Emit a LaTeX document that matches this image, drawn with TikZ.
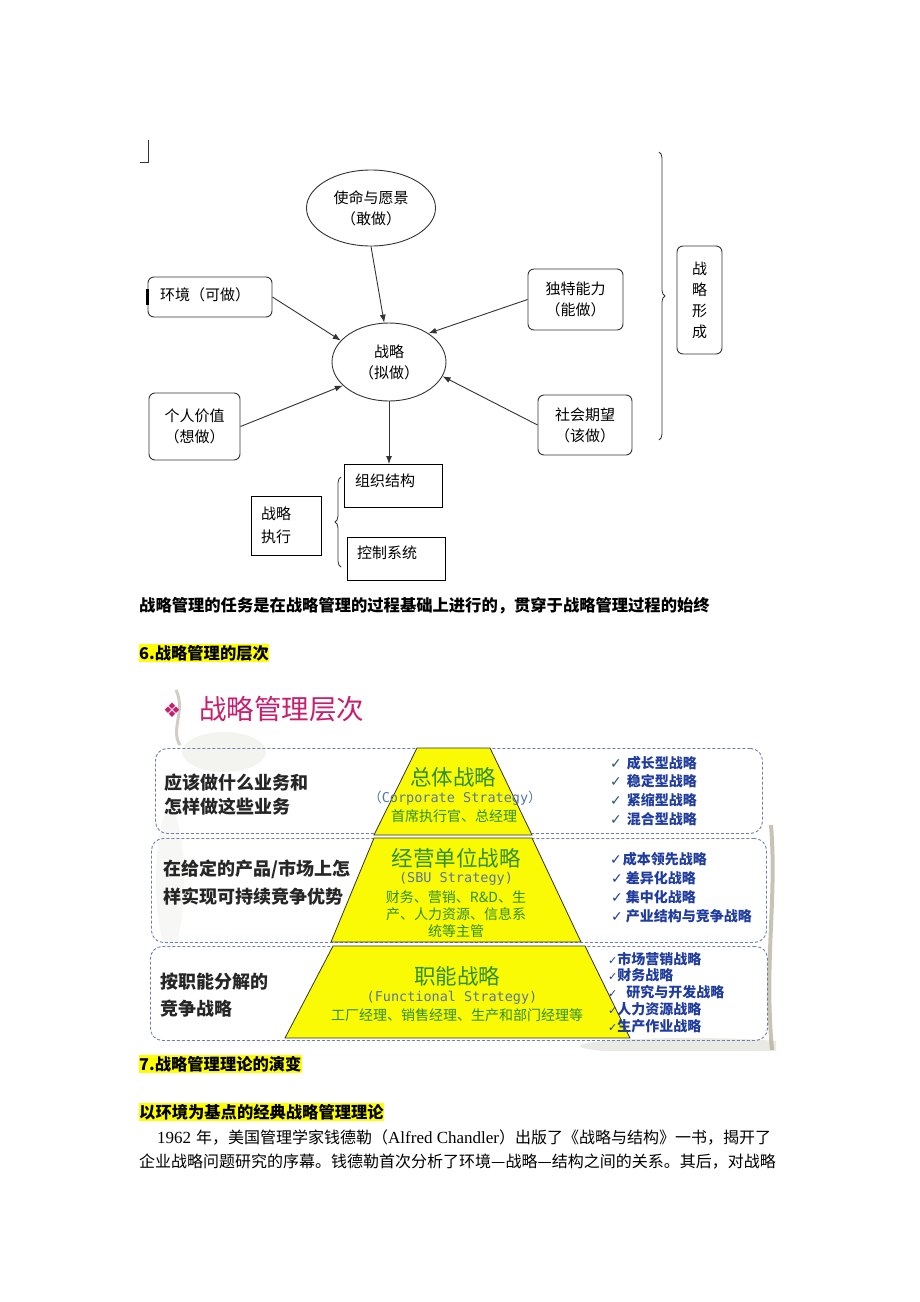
\documentclass[tikz,border=0pt]{standalone}
\usepackage{fontspec}
\setmainfont{Liberation Serif}
\newfontfamily\cjk{Noto Sans CJK SC}
\newfontfamily\symb{DejaVu Sans}
\newfontfamily\enmono{DejaVu Sans Mono}
\usetikzlibrary{shapes.geometric,arrows.meta,decorations.pathreplacing}
\definecolor{linegray}{HTML}{333333}
\definecolor{hlyellow}{HTML}{FFFF00}
\definecolor{trapyellow}{HTML}{FAFA05}
\definecolor{tiergreen}{HTML}{2E8F2E}
\definecolor{engblue}{HTML}{56789E}
\definecolor{listblue}{HTML}{1F3C9E}
\definecolor{checkteal}{HTML}{2A5866}
\definecolor{dashblue}{HTML}{6D7FB0}
\definecolor{pinkred}{HTML}{C71F6E}
\definecolor{leafgray}{HTML}{C9CCBA}
\definecolor{stemcol}{HTML}{A39E86}
\newcommand\setsz[2]{\fontsize{#1}{#2}\selectfont}
\newcommand\chk{{\symb ✓}}
\begin{document}
\begin{tikzpicture}[x=1pt, y=-1pt,
		every node/.style={inner sep=0pt, font=\cjk\setsz{15}{21}, text=black},
		frame/.style={draw=linegray, line width=0.9pt, rounded corners=6pt, align=center},
		plainframe/.style={draw=black, line width=0.9pt},
		oval/.style={ellipse, draw=linegray, line width=0.9pt, align=center},
		arr/.style={draw=linegray, line width=0.9pt, -{Latex[length=8pt,width=6pt]}},
		brc/.style={draw=linegray, line width=0.8pt, decorate, decoration={brace, amplitude=6pt}},
		heading/.style={anchor=west, font=\cjk\bfseries\setsz{16.3}{20}},
		marked/.style={heading, fill=hlyellow, inner ysep=1.5pt},
		body/.style={anchor=west, font=\cjk\setsz{16}{20}},
		tierbox/.style={draw=dashblue, line width=0.9pt, dash pattern=on 3pt off 2pt, rounded corners=12pt, anchor=north west},
		trap/.style={fill=trapyellow, draw=linegray, line width=0.8pt},
		lefttext/.style={anchor=west, font=\cjk\bfseries\setsz{18}{20}, text=black!85},
		tiertitle/.style={font=\cjk\setsz{21.5}{24}, text=tiergreen},
		tiereng/.style={font=\enmono\setsz{13.5}{16}, text=engblue},
		tiersub/.style={font=\cjk\setsz{14}{17}, text=tiergreen},
		item/.style={anchor=west, font=\cjk\bfseries\setsz{14}{16}, text=listblue}]
	\useasboundingbox[fill=white] (0,0) rectangle (920,1302);

	\draw[linegray, line width=0.7pt] (140,162) -- (148,162) -- (148,140);

	\node[oval, minimum width=129pt, minimum height=76pt] (mission) at (371,208) {使命与愿景\\（敢做）};
	\node[oval, minimum width=114pt, minimum height=78pt] (core) at (389,362) {战略\\（拟做）};
	\node[frame, minimum width=124pt, minimum height=40pt] (env) at (210,297) {};
	\node[anchor=west] (envtxt) at (160,295) {环境（可做）};
	\draw[line width=2.5pt] ([yshift=8pt]env.west) -- ([yshift=-8pt]env.west);
	\node[frame, minimum width=95pt, minimum height=61pt] (ability) at (575.5,299.5) {独特能力\\（能做）};
	\node[frame, minimum width=91pt, minimum height=67pt] (personal) at (194.5,426.5) {个人价值\\（想做）};
	\node[frame, minimum width=94pt, minimum height=60pt] (society) at (585,425) {社会期望\\（该做）};
	\node[frame, minimum width=45pt, minimum height=108pt] (formation) at (699.5,300) {战\\略\\形\\成};
	\draw[brc] (659,152) -- (659,440);

	\draw[arr] (mission.south) -- (core.97);
	\draw[arr] (env.east) -- (core.156);
	\draw[arr] (ability.west) -- (core.36);
	\draw[arr] (personal.east) -- (core.207);
	\draw[arr] (society.west) -- (core.345);

	\node[plainframe, minimum width=98pt, minimum height=43pt, anchor=north west] (org) at (344,464) {};
	\node[anchor=west] (orgtxt) at (355,481) {组织结构};
	\node[plainframe, minimum width=98pt, minimum height=43pt, anchor=north west] (ctrl) at (347,537) {};
	\node[anchor=west] (ctrltxt) at (357,553) {控制系统};
	\node[plainframe, minimum width=70pt, minimum height=59pt, text width=50pt, align=left, font=\cjk\setsz{15}{23}] (exec) at (286,525.5) {战略\\执行};
	\draw[brc] (341,567) -- (341,477);
	\draw[arr] (core.south) -- (core.south |- org.north);

	\node[heading] (task) at (139,606) {战略管理的任务是在战略管理的过程基础上进行的，贯穿于战略管理过程的始终};
	\node[marked] (sec6) at (139,653) {6.战略管理的层次};

	\begin{scope}
		\clip (150,688) rectangle (776,1050);
		\fill[leafgray, opacity=.22] (224,752) ellipse (42pt and 20pt);
		\fill[leafgray, opacity=.14] (170,880) ellipse (14pt and 70pt);
		\fill[leafgray, opacity=.4] (690,1046) ellipse (110pt and 8pt);
		\draw[stemcol, line width=3pt, opacity=.5] (176,690) .. controls (186,710) and (170,730) .. (180,745);
		\draw[stemcol, line width=4pt, opacity=.6] (771,825) .. controls (777,900) and (764,960) .. (772,1050);
	\end{scope}

	\node[anchor=west, font=\symb\setsz{20}{20}, text=pinkred] (diam) at (163,710) {❖};
	\node[anchor=west, font=\cjk\setsz{27.5}{30}, text=pinkred] (title) at (199,709) {战略管理层次};

	\node[tierbox, minimum width=607pt, minimum height=85pt] (tierA) at (155,748) {};
	\node[tierbox, minimum width=615pt, minimum height=104pt] (tierB) at (151,838) {};
	\node[tierbox, minimum width=617pt, minimum height=94pt] (tierC) at (150,946) {};

	\filldraw[trap] (417,748) -- (490,748) -- (532,835) -- (374,835) -- cycle;
	\filldraw[trap] (374,838) -- (532,838) -- (581,942) -- (331,942) -- cycle;
	\filldraw[trap] (333,946) -- (585,946) -- (630,1038) -- (285,1038) -- cycle;

	\node[tiertitle] (corp) at (453,777) {总体战略};
	\node[tiereng] (corpen) at (455,798) {{\cjk （}Corporate Strategy{\cjk ）}};
	\node[tiersub] (corpwho) at (454,816) {首席执行官、总经理};
	\node[tiertitle] (sbu) at (456,858) {经营单位战略};
	\node[tiereng] (sbuen) at (456,879) {(SBU Strategy)};
	\node[tiersub, align=center] (sbuwho) at (456,914) {财务、营销、R\&D、生\\产、人力资源、信息系\\统等主管};
	\node[tiertitle] (func) at (457,976) {职能战略};
	\node[tiereng] (funcen) at (452,998) {(Functional Strategy)};
	\node[tiersub] (funcwho) at (457,1015) {工厂经理、销售经理、生产和部门经理等};

	\node[lefttext] (qA1) at (164,783) {应该做什么业务和};
	\node[lefttext] (qA2) at (164,807) {怎样做这些业务};
	\node[lefttext] (qB1) at (163,869) {在给定的产品/市场上怎};
	\node[lefttext] (qB2) at (163,897) {样实现可持续竞争优势};
	\node[lefttext] (qC1) at (160,982) {按职能分解的};
	\node[lefttext] (qC2) at (160,1009) {竞争战略};

	\node[item] (a1) at (610,763) {{\color{checkteal}\chk}\hspace{5pt}成长型战略};
	\node[item] (a2) at (610,781) {{\color{checkteal}\chk}\hspace{5pt}稳定型战略};
	\node[item] (a3) at (610,800) {{\color{checkteal}\chk}\hspace{5pt}紧缩型战略};
	\node[item] (a4) at (610,819) {{\color{checkteal}\chk}\hspace{5pt}混合型战略};
	\node[item] (b1) at (610,859) {\chk\hspace{1pt}成本领先战略};
	\node[item] (b2) at (611,878) {\chk\hspace{3pt}差异化战略};
	\node[item] (b3) at (611,897) {\chk\hspace{3pt}集中化战略};
	\node[item] (b4) at (611,916) {\chk\hspace{3pt}产业结构与竞争战略};
	\node[item] (c1) at (608,959) {{\setsz{11}{14}\chk}市场营销战略};
	\node[item] (c2) at (608,975) {{\setsz{11}{14}\chk}财务战略};
	\node[item] (c3) at (608,992) {{\setsz{11}{14}\chk}\hspace{9pt}研究与开发战略};
	\node[item] (c4) at (608,1009) {{\setsz{11}{14}\chk}人力资源战略};
	\node[item] (c5) at (608,1026) {{\setsz{11}{14}\chk}生产作业战略};

	\node[marked] (sec7) at (139,1064) {7.战略管理理论的演变};
	\node[marked] (sub7) at (139,1112) {以环境为基点的经典战略管理理论};
	\node[body] (line1) at (157,1137) {{\rmfamily\setsz{17}{20}1962\hspace{5pt}}年，美国管理学家钱德勒（{\rmfamily\setsz{17}{20}Alfred Chandler}）出版了《战略与结构》一书，揭开了};
	\node[body] (line2) at (139,1162) {企业战略问题研究的序幕。钱德勒首次分析了环境—战略—结构之间的关系。其后，对战略};
\end{tikzpicture}
\end{document}
